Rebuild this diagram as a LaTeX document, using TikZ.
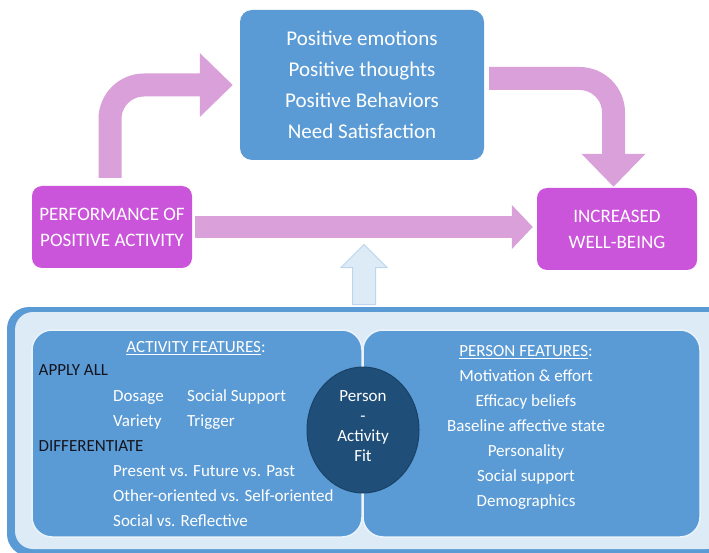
\documentclass[tikz,border=0pt]{standalone}
\usepackage{fontspec}
\setmainfont{Carlito}
\usetikzlibrary{arrows.meta,shapes.geometric,shapes.arrows}

\definecolor{boxblue}{RGB}{91,155,213}
\definecolor{paleblue}{RGB}{221,235,247}
\definecolor{stagepink}{RGB}{203,85,218}
\definecolor{flowpink}{RGB}{218,160,218}
\definecolor{fitnavy}{RGB}{31,78,121}
\definecolor{liftedge}{RGB}{189,213,238}
\definecolor{darktext}{RGB}{20,20,30}

\begin{document}
\begin{tikzpicture}[x=1pt,y=-1pt,
  stage/.style={rectangle, rounded corners=10pt, fill=stagepink, text=white,
    minimum width=160pt, minimum height=82pt, align=center,
    font=\fontsize{19}{26}\selectfont},
  flow/.style={draw=flowpink, line width=23pt, rounded corners=34pt,
    -{Triangle[width=62pt,length=33pt]}},
  panel/.style={fill=boxblue, draw=white!88!boxblue, line width=1.5pt, rounded corners=20pt},
  item/.style={anchor=west, text=white, inner sep=0pt, text height=12pt, text depth=3.5pt,
    font=\fontsize{17}{20}\selectfont},
  head/.style={item, text=darktext},
  trait/.style={item, anchor=center}]

\useasboundingbox (0,0) rectangle (709,553);

% the three stages of the model
\node[rectangle, rounded corners=12pt, fill=boxblue, text=white, minimum width=244pt,
      minimum height=150pt, align=center, font=\fontsize{21}{31}\selectfont] (mid) at (362,85)
      {Positive emotions\\Positive thoughts\\Positive Behaviors\\Need Satisfaction};
\node[stage] (perf) at (112,227) {PERFORMANCE OF\\POSITIVE ACTIVITY};
\node[stage] (wb) at (617,229) {INCREASED\\WELL-BEING};

\draw[flow, shorten <=8pt, shorten >=7pt] ([xshift=-2pt]perf.north) |- (mid.west);
\draw[flow, shorten <=5pt, shorten >=1pt] ([yshift=6.5pt]mid.east) -| ([xshift=-3.5pt]wb.north);
\draw[flow, line width=22pt, -{Triangle[width=43pt,length=21pt]}, shorten <=3pt, shorten >=4pt]
      (perf.east) -- (perf.east -| wb.west);

\node[single arrow, rotate=90, anchor=tail, fill=paleblue, draw=liftedge, line width=1pt,
      minimum height=60pt, minimum width=45pt, inner xsep=0pt, inner ysep=11pt,
      single arrow head extend=11.5pt, single arrow head indent=0pt] (lift) at (364,305) {};

% moderators
\fill[boxblue, rounded corners=22pt] (7,307) rectangle (730,556);
\fill[paleblue, rounded corners=18pt] (15,312) rectangle (725,549);
\draw[panel] (32,330) rectangle (362,537);
\draw[panel] (363,330) rectangle (700,537);

\node[trait] (actitle) at (196,348) {\underline{ACTIVITY FEATURES}:};
\node[head] (applyall) at (38.5,371) {APPLY ALL};
\node[item] (dosage) at (113,397) {Dosage};
\node[item] (support) at (187,397) {Social Support};
\node[item] (variety) at (113,422) {Variety};
\node[item] (trigger) at (187,422) {Trigger};
\node[head] (differ) at (38.5,447) {DIFFERENTIATE};
\node[item] (tense) at (113,472) {Present vs. Future vs. Past};
\node[item] (orient) at (113,497) {Other-oriented vs. Self-oriented};
\node[item] (social) at (113,522) {Social vs. Reflective};

\node[trait] (pstitle) at (526,352) {\underline{PERSON FEATURES}:};
\node[trait] (motiv) at (526,377) {Motivation \& effort};
\node[trait] (efficacy) at (526,402) {Efficacy beliefs};
\node[trait] (baseline) at (526,427) {Baseline affective state};
\node[trait] (persona) at (526,452) {Personality};
\node[trait] (socsup) at (526,477) {Social support};
\node[trait] (demog) at (526,502) {Demographics};

\node[ellipse, fill=fitnavy, draw=fitnavy!85!black, line width=1pt,
      minimum width=112pt, minimum height=126pt] (fit) at (363,430) {};
\node[text=white, align=center, font=\fontsize{17}{20}\selectfont] (fitlabel) at (fit.center)
      [yshift=4pt] {Person\\-\\Activity\\Fit};

\end{tikzpicture}
\end{document}
